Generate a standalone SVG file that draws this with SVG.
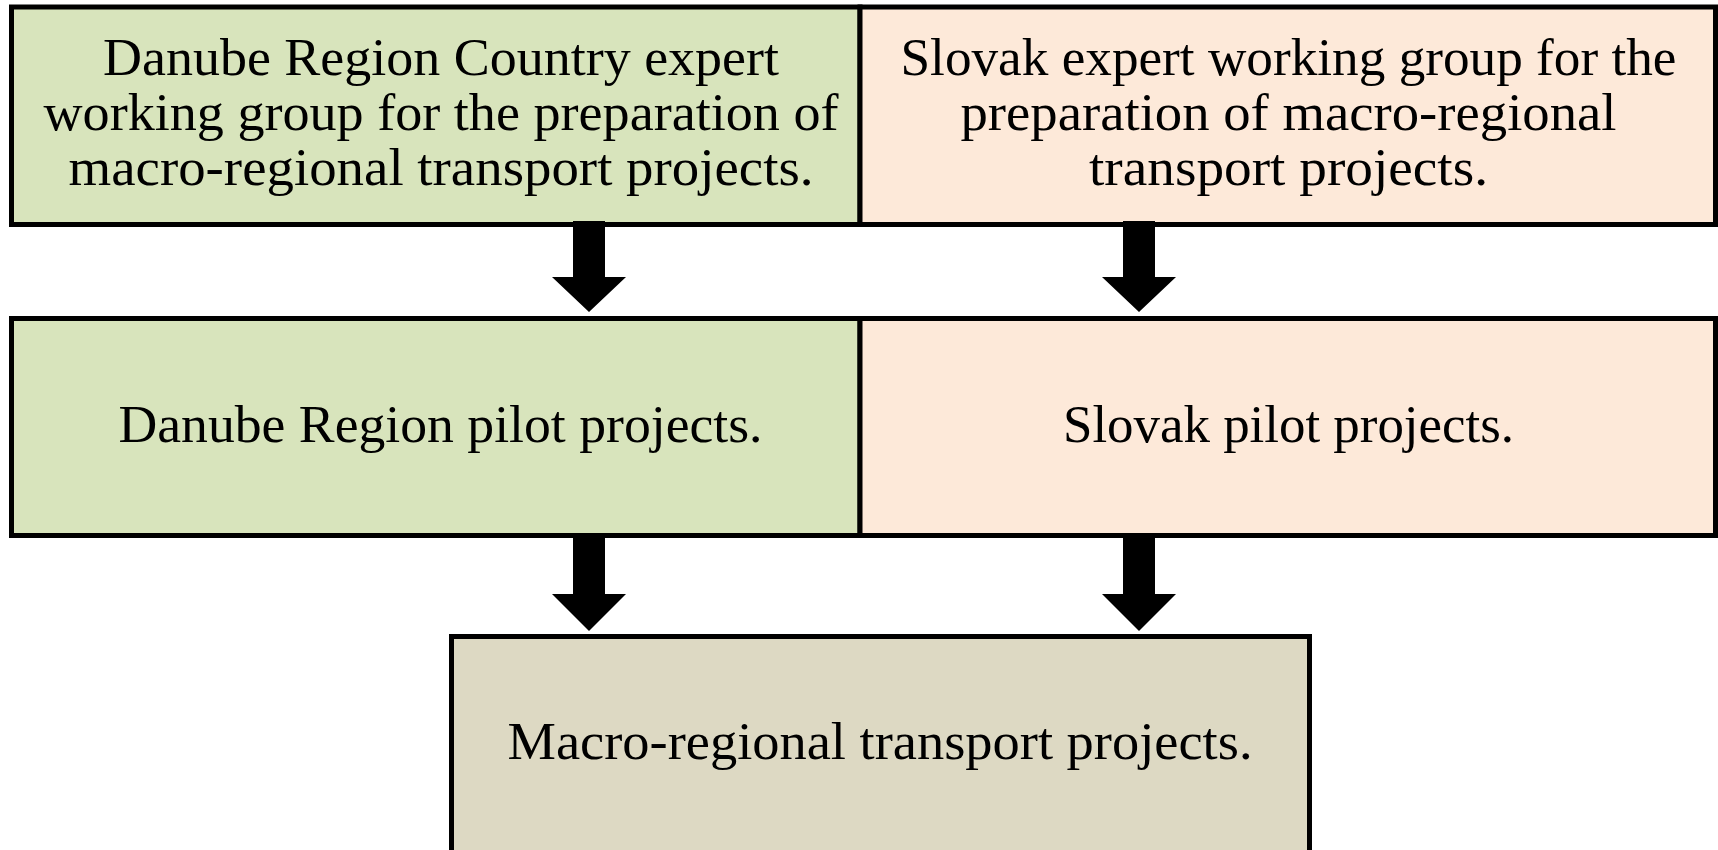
<svg xmlns="http://www.w3.org/2000/svg" width="1718" height="850" viewBox="0 0 1718 850">
<style>
.box{stroke:#000;stroke-width:5}
.g{fill:#d8e4bc}.p{fill:#fde9d9}.t{fill:#ddd9c3}
text{font-family:"Liberation Serif","Times New Roman",serif;font-size:52px;fill:#000;text-anchor:middle}
.arrow{fill:#000}
</style>
<rect width="1718" height="850" fill="#fff"/>
<g id="node-dr-expert">
<rect class="box g" x="11.5" y="7" width="848.5" height="217.5"/>
<text x="441" y="75" textLength="676" lengthAdjust="spacingAndGlyphs">Danube Region Country expert</text>
<text x="441" y="130" textLength="795" lengthAdjust="spacingAndGlyphs">working group for the preparation of</text>
<text x="441" y="185" textLength="745" lengthAdjust="spacingAndGlyphs">macro-regional transport projects.</text>
</g>
<g id="node-sk-expert">
<rect class="box p" x="860" y="7" width="855.5" height="217.5"/>
<text x="1288.5" y="75" textLength="776" lengthAdjust="spacingAndGlyphs">Slovak expert working group for the</text>
<text x="1288.5" y="130" textLength="656" lengthAdjust="spacingAndGlyphs">preparation of macro-regional</text>
<text x="1288.5" y="185" textLength="399" lengthAdjust="spacingAndGlyphs">transport projects.</text>
</g>
<g id="node-dr-pilot">
<rect class="box g" x="11.5" y="318.5" width="848.5" height="217"/>
<text x="440.5" y="442" textLength="644" lengthAdjust="spacingAndGlyphs">Danube Region pilot projects.</text>
</g>
<g id="node-sk-pilot">
<rect class="box p" x="860" y="318.5" width="855.5" height="217"/>
<text x="1288.5" y="442" textLength="451" lengthAdjust="spacingAndGlyphs">Slovak pilot projects.</text>
</g>
<g id="node-macro">
<rect class="box t" x="451.5" y="636.5" width="858" height="240"/>
<text x="880" y="759" textLength="745" lengthAdjust="spacingAndGlyphs">Macro-regional transport projects.</text>
</g>
<g id="connectors">
<polygon class="arrow" points="573,221 605,221 605,277 626,277 589,312 552,277 573,277"/>
<polygon class="arrow" points="1123,221 1155,221 1155,277 1176,277 1139,312 1102,277 1123,277"/>
<polygon class="arrow" points="573,537 605,537 605,594 626,594 589,631 552,594 573,594"/>
<polygon class="arrow" points="1123,537 1155,537 1155,594 1176,594 1139,631 1102,594 1123,594"/>
</g>
</svg>
